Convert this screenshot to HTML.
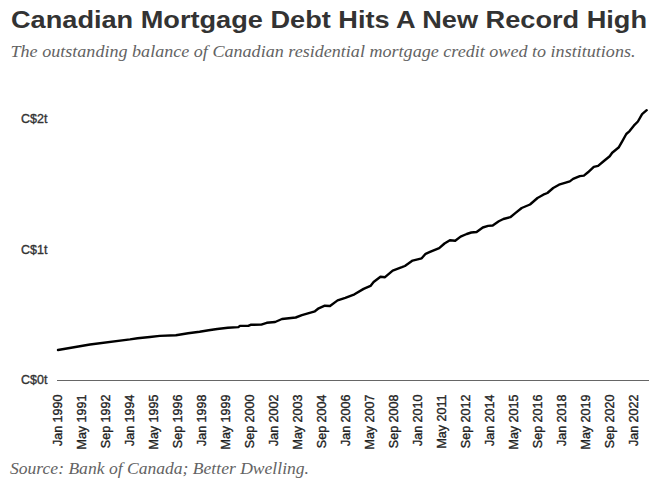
<!DOCTYPE html>
<html><head><meta charset="utf-8"><style>
html,body{margin:0;padding:0;background:#fff;width:654px;height:482px;overflow:hidden}
svg{display:block}
.t{font-family:"Liberation Sans",sans-serif;font-weight:bold;fill:#333}
.s{font-family:"Liberation Serif",serif;font-style:italic;fill:#636363}
.yl{font-family:"Liberation Sans",sans-serif;font-size:12.5px;fill:#333;stroke:#333;stroke-width:0.35px}
.xl{font-family:"Liberation Sans",sans-serif;font-size:12.5px;fill:#222;stroke:#222;stroke-width:0.35px}
</style></head><body>
<svg width="654" height="482" viewBox="0 0 654 482">
<text class="t" x="11" y="27.5" font-size="24.5" textLength="636" lengthAdjust="spacingAndGlyphs">Canadian Mortgage Debt Hits A New Record High</text>
<text class="s" x="10.5" y="56.8" font-size="15.7" textLength="625" lengthAdjust="spacingAndGlyphs">The outstanding balance of Canadian residential mortgage credit owed to institutions.</text>
<g class="yl">
<text x="21" y="123.3">C$2t</text>
<text x="21" y="253.8">C$1t</text>
<text x="21" y="384.3">C$0t</text>
</g>
<line x1="57" y1="380.5" x2="649" y2="380.5" stroke="#666" stroke-width="1"/>
<polyline points="58,350 90,344.5 130,339.4 137.6,338.2 149.9,337 159.8,335.9 175.9,335.2 188.1,333.3 199.6,331.8 208.7,330.3 217.2,329 227.9,327.8 238.4,327.1 239.9,325.9 248.3,325.9 250.6,324.8 261.3,324.6 266.7,322.8 275.1,322 282,319 295.7,317.5 301.9,315.2 314.9,311.3 318.7,308.3 324.8,305.7 330,306 337.6,300.4 345.3,297.8 354.5,294.3 363.6,288.9 370.5,285.9 373.6,282 380.5,276.7 385,277.2 392.7,270.6 401.9,267.2 404.9,266 412.6,260.6 421.7,258.3 425.6,253.8 430,251.9 439.2,248.1 444.5,243.5 449.9,240.2 455.2,240.8 460.6,236.6 466.7,234 471.3,232.5 476.6,232 482.8,227.5 488.1,225.9 492.7,225.5 498.8,221.3 503.4,219 510.3,217.2 515.6,212.9 521.7,208 530,204.5 537.5,198 543.3,194.7 547.4,193 553.2,188 559,184.7 565.7,182.7 569.8,181.4 573.1,178.9 579.8,176.1 583.9,175.6 588,172.3 593.8,166.8 598.1,165.9 603.9,161 609.7,156.3 612.2,152.7 618.9,147.2 622.2,141.4 626.3,134 629.6,131.1 633.8,125.7 637.9,121.5 642.1,114.1 646.7,110.2" fill="none" stroke="#000" stroke-width="2.4" stroke-linejoin="round" stroke-linecap="round"/>
<g class="xl">
<text transform="translate(62,394.6) rotate(-90)" text-anchor="end">Jan 1990</text>
<text transform="translate(86,394.6) rotate(-90)" text-anchor="end">May 1991</text>
<text transform="translate(110,394.6) rotate(-90)" text-anchor="end">Sep 1992</text>
<text transform="translate(134,394.6) rotate(-90)" text-anchor="end">Jan 1994</text>
<text transform="translate(158,394.6) rotate(-90)" text-anchor="end">May 1995</text>
<text transform="translate(182,394.6) rotate(-90)" text-anchor="end">Sep 1996</text>
<text transform="translate(206,394.6) rotate(-90)" text-anchor="end">Jan 1998</text>
<text transform="translate(230,394.6) rotate(-90)" text-anchor="end">May 1999</text>
<text transform="translate(254,394.6) rotate(-90)" text-anchor="end">Sep 2000</text>
<text transform="translate(278,394.6) rotate(-90)" text-anchor="end">Jan 2002</text>
<text transform="translate(302,394.6) rotate(-90)" text-anchor="end">May 2003</text>
<text transform="translate(326,394.6) rotate(-90)" text-anchor="end">Sep 2004</text>
<text transform="translate(350,394.6) rotate(-90)" text-anchor="end">Jan 2006</text>
<text transform="translate(374,394.6) rotate(-90)" text-anchor="end">May 2007</text>
<text transform="translate(398,394.6) rotate(-90)" text-anchor="end">Sep 2008</text>
<text transform="translate(422,394.6) rotate(-90)" text-anchor="end">Jan 2010</text>
<text transform="translate(446,394.6) rotate(-90)" text-anchor="end">May 2011</text>
<text transform="translate(470,394.6) rotate(-90)" text-anchor="end">Sep 2012</text>
<text transform="translate(494,394.6) rotate(-90)" text-anchor="end">Jan 2014</text>
<text transform="translate(518,394.6) rotate(-90)" text-anchor="end">May 2015</text>
<text transform="translate(542,394.6) rotate(-90)" text-anchor="end">Sep 2016</text>
<text transform="translate(566,394.6) rotate(-90)" text-anchor="end">Jan 2018</text>
<text transform="translate(590,394.6) rotate(-90)" text-anchor="end">May 2019</text>
<text transform="translate(614,394.6) rotate(-90)" text-anchor="end">Sep 2020</text>
<text transform="translate(638,394.6) rotate(-90)" text-anchor="end">Jan 2022</text>
</g>
<text class="s" x="10" y="473.8" font-size="15.7" textLength="299" lengthAdjust="spacingAndGlyphs">Source: Bank of Canada; Better Dwelling.</text>
</svg>
</body></html>
